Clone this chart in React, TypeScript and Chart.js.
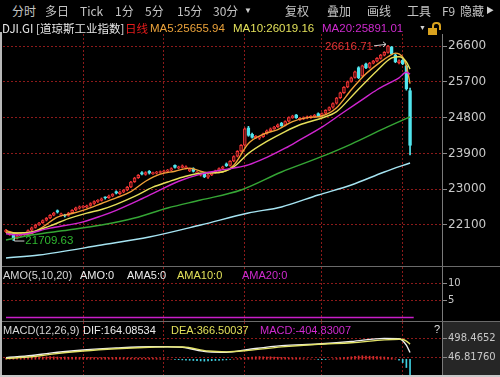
import React, { useEffect, useRef } from "react";
import { Chart, registerables } from "chart.js";

Chart.register(...registerables);

// ---------------- data ----------------
const opens = [
  21930, 21860, 21880, 21770, 21820, 21850, 21890, 21970, 22040, 22110,
  22160, 22220, 22280, 22350, 22460, 22340, 22335, 22340, 22410, 22480,
  22520, 22540, 22550, 22590, 22640, 22690, 22720, 22785, 22790, 22830,
  22940, 22890, 22930, 22980, 23060, 23190, 23290, 23420, 23370, 23450,
  23390, 23400, 23420, 23430, 23450, 23480, 23600, 23530, 23550, 23530,
  23460, 23520, 23400, 23350, 23400, 23300, 23360, 23420, 23470, 23520,
  23640, 23600, 23710, 23830, 23960, 24110, 24540, 24380, 24290, 24280,
  24320, 24400, 24470, 24520, 24570, 24660, 24610, 24710, 24800, 24870,
  24750, 24770, 24790, 24800, 24820, 24900, 24850, 24910, 24990, 25060,
  25160, 25300, 25430, 25570, 25710, 25810, 26060, 25850, 26150, 26060,
  26170, 26220, 26290, 26370, 26440, 26580, 26380, 26180, 26240, 26100,
  25480,
];
const closes = [
  21974, 21900, 21780, 21820, 21860, 21875, 21960, 22030, 22100, 22150,
  22210, 22270, 22340, 22400, 22420, 22380, 22330, 22400, 22470, 22530,
  22555, 22570, 22580, 22640, 22690, 22720, 22760, 22780, 22830, 22870,
  22900, 22930, 22975, 23050, 23180, 23280, 23350, 23380, 23420, 23400,
  23410, 23430, 23440, 23460, 23480, 23520, 23550, 23560, 23590, 23560,
  23500, 23450, 23430, 23380, 23310, 23360, 23420, 23460, 23520, 23560,
  23590, 23700, 23820, 23950, 24100, 24520, 24350, 24300, 24330, 24310,
  24390, 24470, 24520, 24560, 24620, 24600, 24700, 24800, 24840, 24800,
  24780, 24800, 24820, 24830, 24860, 24840, 24900, 24980, 25050, 25150,
  25290, 25420, 25560, 25700, 25800, 25950, 25800, 26100, 26050, 26170,
  26220, 26290, 26370, 26440, 26600, 26400, 26200, 26230, 26150, 25520,
  24100,
];
const highs = [
  21990, 21930, 21900, 21840, 21880, 21900, 21980, 22050, 22120, 22170,
  22230, 22290, 22360, 22420, 22480, 22400, 22370, 22420, 22490, 22550,
  22580, 22590, 22600, 22660, 22710, 22740, 22780, 22810, 22850, 22890,
  22960, 22950, 22990, 23070, 23200, 23300, 23370, 23440, 23440, 23470,
  23430, 23450, 23460, 23480, 23500, 23540, 23610, 23580, 23610, 23590,
  23520, 23540, 23450, 23400, 23420, 23380, 23440, 23480, 23540, 23580,
  23660, 23720, 23840, 23970, 24120, 24540, 24580, 24410, 24350, 24330,
  24410, 24490, 24540, 24580, 24640, 24680, 24720, 24820, 24860, 24880,
  24800, 24820, 24840, 24850, 24880, 24920, 24920, 25000, 25070, 25170,
  25310, 25440, 25580, 25720, 25820, 25970, 26080, 26120, 26170, 26190,
  26240, 26310, 26390, 26460, 26616.71, 26590, 26400, 26250, 26260, 26120,
  25540,
];
const lows = [
  21910, 21840, 21709.63, 21750, 21800, 21830, 21870, 21950, 22020, 22090,
  22140, 22200, 22260, 22330, 22400, 22320, 22300, 22320, 22390, 22460,
  22500, 22520, 22530, 22570, 22620, 22670, 22700, 22750, 22770, 22810,
  22880, 22870, 22910, 22960, 23040, 23170, 23270, 23360, 23350, 23380,
  23370, 23380, 23400, 23410, 23430, 23460, 23530, 23510, 23530, 23510,
  23440, 23430, 23380, 23330, 23290, 23270, 23340, 23400, 23450, 23500,
  23570, 23580, 23690, 23810, 23940, 24090, 24330, 24280, 24270, 24250,
  24300, 24380, 24450, 24500, 24550, 24580, 24590, 24690, 24780, 24780,
  24730, 24750, 24770, 24780, 24800, 24820, 24830, 24890, 24970, 25040,
  25140, 25280, 25410, 25550, 25690, 25790, 25780, 25830, 26030, 26040,
  26150, 26200, 26270, 26350, 26420, 26380, 26180, 26150, 26130, 25490,
  23860,
];

const ma5Idx = [0, 3, 6, 10, 14, 18, 22, 26, 30, 34, 38, 42, 46, 50, 54, 58, 62, 66, 70, 74, 78, 82, 86, 90, 94, 98, 102, 104, 106, 107, 108, 109, 110];
const ma5 = [21960, 21880, 21870, 22050, 22300, 22390, 22500, 22640, 22780, 22940, 23200, 23380, 23450, 23530, 23430, 23420, 23600, 24150, 24380, 24500, 24700, 24800, 24840, 25050, 25500, 25900, 26200, 26330, 26420, 26400, 26320, 26100, 25655.94];

const ma10Idx = [0, 6, 12, 17, 22, 26, 30, 35, 40, 44, 48, 53, 58, 62, 66, 71, 76, 80, 86, 90, 95, 101, 105, 107, 109, 110];
const ma10 = [21900, 21910, 22080, 22260, 22400, 22490, 22620, 22820, 23050, 23180, 23300, 23400, 23420, 23560, 23900, 24200, 24450, 24620, 24790, 24950, 25420, 25980, 26300, 26330, 26200, 26019.16];

const ma20Idx = [0, 3, 12, 21, 26, 30, 37, 42, 47, 53, 58, 62, 66, 71, 76, 80, 86, 92, 97, 101, 105, 107, 109, 110];
const ma20 = [21880, 21850, 22020, 22180, 22330, 22470, 22760, 22980, 23200, 23380, 23470, 23530, 23610, 23800, 24030, 24240, 24560, 24940, 25250, 25500, 25700, 25800, 25940, 25891.01];

const ma60Idx = [0, 7, 17, 26, 35, 44, 53, 64, 75, 85, 94, 103, 110];
const ma60 = [21723, 21849, 21974, 22100, 22276, 22527, 22728, 22980, 23432, 23785, 24136, 24530, 24820];

const ma120Idx = [0, 9, 26, 39, 53, 66, 75, 85, 94, 103, 110];
const ma120 = [21271, 21346, 21597, 21798, 22100, 22402, 22553, 22854, 23106, 23432, 23659];

const priceTicks = [22100, 23000, 23900, 24800, 25700, 26600];
const monthGridIdx = [21, 43, 65, 86, 108];

const amaIdx = [0, 111];
const ama20 = [0, 0];
const amoTicks = [5, 10];

const macdIdx = [0, 7, 12, 21, 30, 39, 44, 48, 55, 60, 66, 75, 85, 88, 94, 103, 107, 108, 109, 110];
const dif = [40, 90, 150, 225, 275, 305, 305, 290, 180, 170, 240, 330, 370, 390, 430, 505, 500, 450, 340, 164.08534];
const dea = [20, 60, 120, 200, 255, 290, 300, 298, 200, 180, 215, 300, 365, 375, 400, 470, 485, 480, 440, 366.50037];
const macdHist = [
  30, 35, 40, 45, 50, 55, 60,
  60, 65, 60, 55, 60, 65, 60, 55, 50, 55, 50, 45, 50, 45,
  45, 40, 45, 40, 38, 40, 42, 38, 35, 40, 38, 35, 30, 32, 30, 28, 30, 25, 28, 30,
  20, 15, 10, 5, 0, -5, -10,
  -15, -20, -25, -30, -35, -40, -45, -40, -35, -30, -25, -20, -15,
  -5, 5, 15, 25, 35, 45, 55, 60, 65, 60,
  55, 60, 55, 50, 45, 40, 35, 30, 25, 20, 15, 10, 5, 0,
  -5, -10, -5, 0, 10, 20,
  30, 40, 50, 60, 70, 80, 85, 80, 75, 70, 65, 60, 55, 50,
  30, 10, -20, -80, -200, -404.83007,
];
const macdTicks = [46.8176, 498.4652];
const macdTickLabels = ["46.81760", "498.4652"];

// ---------------- styling ----------------
const FONT = "'Liberation Sans', 'Noto Sans CJK SC', sans-serif";
const CJK = "'Noto Sans CJK SC', 'Liberation Sans', sans-serif";
const GRID = "#8c1a1a";
const RED = "#f03434";
const CYAN = "#52e6ee";
const X_MIN = -0.82;
const X_MAX = 118.7;
const AXIS_W = 58;

const pts = (idx: number[], vals: number[]) => idx.map((x, k) => ({ x, y: vals[k] }));

function xAxis(): any {
  return {
    type: "linear",
    min: X_MIN,
    max: X_MAX,
    offset: false,
    ticks: { display: false },
    grid: { color: GRID, drawTicks: false, offset: false, lineWidth: 1 },
    border: { display: false, dash: [2, 2] },
    afterBuildTicks: (s: any) => {
      s.ticks = monthGridIdx.map((v) => ({ value: v }));
    },
    afterFit: (s: any) => {
      s.height = 0;
      s.paddingLeft = 0;
      s.paddingRight = 0;
    },
  };
}

function yAxis(min: number, max: number, ticks: number[], label: (v: number, i: number) => string, size: number): any {
  return {
    type: "linear",
    position: "right",
    min,
    max,
    afterBuildTicks: (s: any) => {
      s.ticks = ticks.map((v) => ({ value: v }));
    },
    afterFit: (s: any) => {
      s.width = AXIS_W;
      s.paddingTop = 0;
      s.paddingBottom = 0;
    },
    ticks: {
      color: "#c8c8c8",
      font: { family: "'DejaVu Sans', sans-serif", size },
      padding: 1,
      autoSkip: false,
      callback: (v: any, i: number) => label(Number(v), i),
    },
    grid: { color: GRID, tickColor: "#8a8a8a", tickLength: 5, drawTicks: true, lineWidth: 1 },
    border: { display: true, color: "#7a7a7a", dash: [2, 2] },
  };
}

const baseOptions = (scales: any): any => ({
  responsive: false,
  maintainAspectRatio: false,
  animation: false,
  devicePixelRatio: 1,
  events: [],
  layout: { padding: { left: 3, right: 0, top: 0, bottom: 0 } },
  plugins: { legend: { display: false }, tooltip: { enabled: false } },
  scales,
});

const lineDs = (data: any[], color: string, width = 1.4): any => ({
  type: "line",
  data,
  borderColor: color,
  borderWidth: width,
  pointRadius: 0,
  cubicInterpolationMode: "monotone",
  order: 0,
});

const extremesPlugin = {
  id: "extremes",
  afterDatasetsDraw(chart: any) {
    const { ctx, scales } = chart;
    const x = scales.x;
    const y = scales.y;
    const hiVal = Math.max(...highs);
    const hiIdx = highs.indexOf(hiVal);
    const loVal = Math.min(...lows);
    const loIdx = lows.indexOf(loVal);
    const hx = x.getPixelForValue(hiIdx);
    const hy = y.getPixelForValue(hiVal);
    const lx = x.getPixelForValue(loIdx);
    const ly = y.getPixelForValue(loVal);
    ctx.save();
    ctx.font = `11.5px ${FONT}`;
    ctx.textBaseline = "middle";
    ctx.fillStyle = "#e03434";
    ctx.textAlign = "right";
    ctx.fillText(hiVal.toFixed(2), hx - 15, hy + 1);
    ctx.strokeStyle = "#d0d0d0";
    ctx.lineWidth = 1;
    ctx.beginPath();
    ctx.moveTo(hx - 14, hy + 0.5);
    ctx.lineTo(hx - 2, hy - 1);
    ctx.moveTo(hx - 5, hy - 3.5);
    ctx.lineTo(hx - 2, hy - 1);
    ctx.lineTo(hx - 5, hy + 1.5);
    ctx.stroke();
    ctx.fillStyle = "#30b830";
    ctx.textAlign = "left";
    ctx.fillText(loVal.toFixed(2), lx + 12, ly);
    ctx.strokeStyle = "#d0d0d0";
    ctx.beginPath();
    ctx.moveTo(lx + 11, ly + 0.5);
    ctx.lineTo(lx + 1, ly + 0.5);
    ctx.moveTo(lx + 1, ly - 3);
    ctx.lineTo(lx + 1, ly + 0.5);
    ctx.stroke();
    ctx.restore();
  },
};

const greyColumnPlugin = {
  id: "greyColumn",
  beforeDraw(chart: any) {
    const { ctx, chartArea, width, height } = chart;
    ctx.save();
    ctx.fillStyle = "#262626";
    ctx.fillRect(chartArea.right, 0, width - chartArea.right, height);
    ctx.restore();
  },
};

const isUp = (i: number) => closes[i] >= opens[i];

function mainConfig(): any {
  return {
    type: "bar",
    data: {
      datasets: [
        {
          type: "bar",
          data: opens.map((_, i) => ({ x: i, y: [lows[i], highs[i]] })),
          barThickness: 1,
          grouped: false,
          backgroundColor: (c: any) => (isUp(c.dataIndex) ? RED : CYAN),
          order: 3,
        },
        {
          type: "bar",
          data: opens.map((o, i) => ({ x: i, y: [o, closes[i]] })),
          barThickness: 3,
          grouped: false,
          minBarLength: 1,
          borderSkipped: false,
          borderWidth: 1,
          borderColor: (c: any) => (isUp(c.dataIndex) ? RED : CYAN),
          backgroundColor: (c: any) => (isUp(c.dataIndex) ? "#5a1010" : CYAN),
          order: 2,
        },
        lineDs(pts(ma120Idx, ma120), "#a6e4f2"),
        lineDs(pts(ma60Idx, ma60), "#35a635"),
        lineDs(pts(ma20Idx, ma20), "#d025d0"),
        lineDs(pts(ma10Idx, ma10), "#e6e05a"),
        lineDs(pts(ma5Idx, ma5), "#f0a238"),
      ],
    },
    options: baseOptions({
      x: xAxis(),
      y: yAxis(21069, 26902, priceTicks, (v) => String(v), 12),
    }),
    plugins: [extremesPlugin],
  };
}

function amoConfig(): any {
  return {
    type: "line",
    data: { datasets: [lineDs(pts(amaIdx, ama20), "#c81ec8", 1.6)] },
    options: baseOptions({
      x: xAxis(),
      y: yAxis(-1.0, 14.71, amoTicks, (v) => String(v), 10),
    }),
  };
}

function macdConfig(): any {
  return {
    type: "bar",
    data: {
      datasets: [
        {
          type: "bar",
          data: macdHist.map((v, i) => ({ x: i, y: v })),
          barThickness: 1,
          grouped: false,
          backgroundColor: (c: any) => (macdHist[c.dataIndex] >= 0 ? "#d82c2c" : "#40cfe0"),
          order: 2,
        },
        lineDs(pts(macdIdx, dea), "#e4e46a"),
        lineDs(pts(macdIdx, dif), "#eeeeee"),
      ],
    },
    options: baseOptions({
      x: xAxis(),
      y: yAxis(-404.9, 902.6, macdTicks, (_v, i) => macdTickLabels[i], 10),
    }),
    plugins: [greyColumnPlugin],
  };
}

function ChartCanvas({ top, height, config }: { top: number; height: number; config: () => any }) {
  const ref = useRef<HTMLCanvasElement>(null);
  useEffect(() => {
    const chart = new Chart(ref.current as HTMLCanvasElement, config());
    return () => chart.destroy();
  }, []);
  return (
    <canvas
      ref={ref}
      width={500}
      height={height}
      style={{ position: "absolute", left: 0, top, width: 500, height, display: "block" }}
    />
  );
}

function T({ x, cy, color, children, size = 11, family = FONT }: any) {
  return (
    <span
      style={{
        position: "absolute",
        left: x,
        top: cy - 7,
        lineHeight: "14px",
        fontSize: size,
        fontFamily: family,
        color,
        whiteSpace: "nowrap",
      }}
    >
      {children}
    </span>
  );
}

const toolbar: [string, number][] = [
  ["分时", 12],
  ["多日", 45],
  ["Tick", 80],
  ["1分", 115],
  ["5分", 145],
  ["15分", 177],
  ["30分", 213],
  ["复权", 285],
  ["叠加", 327],
  ["画线", 367],
  ["工具", 407],
  ["F9", 442],
  ["隐藏", 460],
];

export default function App() {
  return (
    <div
      style={{
        position: "absolute",
        left: 0,
        top: 0,
        width: 500,
        height: 377,
        background: "#000",
        overflow: "hidden",
      }}
    >
      <ChartCanvas top={34} height={232} config={mainConfig} />
      <ChartCanvas top={267} height={54} config={amoConfig} />
      <ChartCanvas top={322} height={54} config={macdConfig} />

      {/* separators & frame */}
      <div style={{ position: "absolute", left: 0, top: 266, width: 500, height: 1, background: "#6a6a6a" }} />
      <div style={{ position: "absolute", left: 0, top: 321, width: 500, height: 1, background: "#6a6a6a" }} />
      <div style={{ position: "absolute", left: 0, top: 32, width: 2, height: 345, background: "#b8b8b8" }} />
      <div style={{ position: "absolute", left: 0, top: 375, width: 500, height: 2, background: "#c8c8c8" }} />

      {/* toolbar */}
      {toolbar.map(([t, x]) => (
        <T key={t} x={x} cy={11} color="#c4c4c4" size={12} family={CJK}>
          {t}
        </T>
      ))}
      <T x={244} cy={11} color="#d0d0d0" size={8}>▼</T>
      <T x={486} cy={11} color="#d0d0d0" size={8}>▶</T>

      {/* title row */}
      <T x={2} cy={28} color="#e6e6e6" size={11.5} family={CJK}>DJI.GI [道琼斯工业指数]</T>
      <T x={125} cy={28} color="#e81c1c" size={11.5} family={CJK}>日线</T>
      <T x={150} cy={28} color="#eba23a" size={11.5}>MA5:25655.94</T>
      <T x={233} cy={28} color="#e2e05a" size={11.5}>MA10:26019.16</T>
      <T x={322} cy={28} color="#cf2acf" size={11.5}>MA20:25891.01</T>
      <T x={419} cy={28} color="#d0d0d0" size={7}>▼</T>
      <div style={{ position: "absolute", left: 428, top: 28, width: 9, height: 7, background: "#d9a21e" }} />
      <div
        style={{
          position: "absolute",
          left: 432,
          top: 22,
          width: 5,
          height: 6,
          border: "2px solid #d9a21e",
          borderBottom: "none",
          borderRadius: "4px 4px 0 0",
        }}
      />

      {/* AMO labels */}
      <T x={3} cy={275} color="#d6d6d6">AMO(5,10,20)</T>
      <T x={80} cy={275} color="#ececec">AMO:0</T>
      <T x={127} cy={275} color="#ececec">AMA5:0</T>
      <T x={177} cy={275} color="#e2e05a">AMA10:0</T>
      <T x={242} cy={275} color="#cf2acf">AMA20:0</T>

      {/* MACD labels */}
      <T x={3} cy={330} color="#d6d6d6">MACD(12,26,9)</T>
      <T x={83} cy={330} color="#ececec">DIF:164.08534</T>
      <T x={171} cy={330} color="#e2e05a">DEA:366.50037</T>
      <T x={260} cy={330} color="#cf2acf">MACD:-404.83007</T>
      <T x={434} cy={329} color="#e0e0e0">?</T>
    </div>
  );
}
